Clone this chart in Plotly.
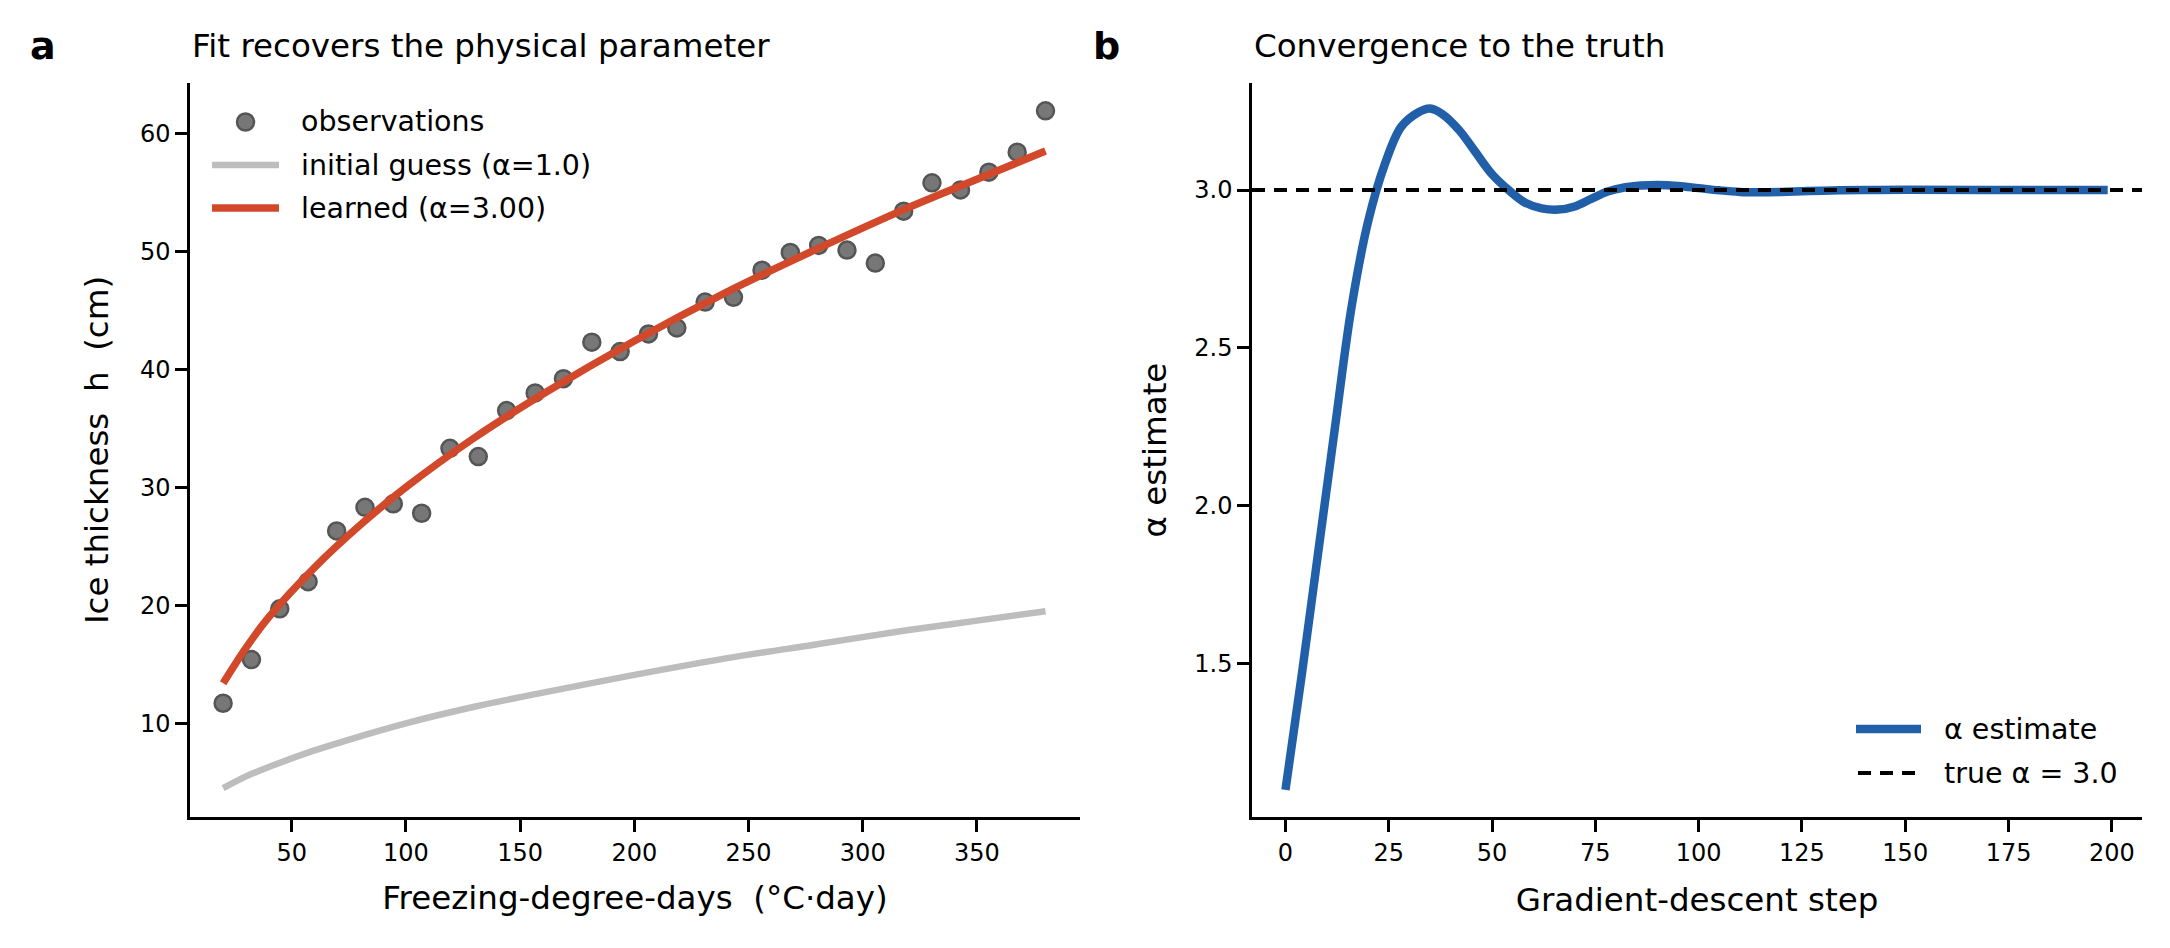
import plotly.graph_objects as go

W, H = 2170, 948
FONT = "DejaVu Sans"

# ---------------- data: panel a ----------------
fdd_obs = [20.0, 32.4, 44.8, 57.2, 69.7, 82.1, 94.5, 106.9, 119.3, 131.7,
           144.1, 156.6, 169.0, 181.4, 193.8, 206.2, 218.6, 231.0, 243.4, 255.9,
           268.3, 280.7, 293.1, 305.5, 317.9, 330.3, 342.8, 355.2, 367.6, 380.0]
h_obs = [11.7, 15.4, 19.7, 22.0, 26.3, 28.3, 28.6, 27.8, 33.3, 32.6,
         36.5, 38.0, 39.2, 42.3, 41.5, 43.0, 43.5, 45.7, 46.1, 48.4,
         49.9, 50.5, 50.1, 49.0, 53.4, 55.8, 55.2, 56.7, 58.4, 61.9]

fdd_curve = [20, 30, 40, 60, 80, 100, 130, 160, 200, 240, 280, 320, 350, 380]
h_initial = [4.5, 5.5, 6.3, 7.7, 8.9, 10.0, 11.4, 12.6, 14.1, 15.5, 16.7, 17.9, 18.7, 19.5]
h_learned = [13.4, 16.4, 19.0, 23.2, 26.8, 30.0, 34.2, 37.9, 42.4, 46.5, 50.2, 53.7, 56.1, 58.5]

# ---------------- data: panel b ----------------
steps = [0, 4, 8, 12, 16, 20, 24, 28, 32, 35, 38, 42, 46, 50, 54, 58, 62, 66, 70,
         74, 78, 82, 86, 90, 95, 100, 105, 110, 115, 120, 130, 140, 150, 170, 199]
alpha_est = [1.10, 1.47, 1.86, 2.25, 2.63, 2.90, 3.08, 3.20, 3.245, 3.258, 3.24, 3.19,
             3.12, 3.05, 3.00, 2.96, 2.942, 2.938, 2.948, 2.972, 2.995, 3.008, 3.014,
             3.016, 3.013, 3.006, 2.999, 2.994, 2.993, 2.994, 2.998, 3.0, 3.001, 3.0, 3.0]
alpha_true = 3.0

# ---------------- ticks / ranges ----------------
xticks_a = [50, 100, 150, 200, 250, 300, 350]
yticks_a = [10, 20, 30, 40, 50, 60]
xticks_b = [0, 25, 50, 75, 100, 125, 150, 175, 200]
yticks_b = [1.5, 2.0, 2.5, 3.0]
xrange_a = [5.5, 395.1]
yrange_a = [2.06, 64.26]
xrange_b = [-8.1, 207.3]
yrange_b = [1.014, 3.339]

# ---------------- styles ----------------
C_OBS, C_OBS_EDGE = "#777777", "#555555"
C_INIT, C_LEARN, C_EST = "#bdbdbd", "#d1492a", "#2160a8"
W_INIT, W_LEARN, W_EST, W_TRUE = 6.5, 7.5, 8.5, 4
DASH = "13px,9px"

# ---------------- layout geometry (pixels) ----------------
AX_A = (190, 1080)
AX_B = (1252, 2142)
TOP, BOT = 83, 817


def px(x):
    return x / W


def py(y):
    return 1 - y / H


fig = go.Figure()

fig.add_trace(go.Scatter(
    x=fdd_curve, y=h_initial, mode="lines", name="initial guess (α=1.0)",
    line=dict(color=C_INIT, width=W_INIT, shape="spline"),
    xaxis="x", yaxis="y", showlegend=False))
fig.add_trace(go.Scatter(
    x=fdd_obs, y=h_obs, mode="markers", name="observations",
    marker=dict(size=17, color=C_OBS, line=dict(color=C_OBS_EDGE, width=2.5)),
    xaxis="x", yaxis="y", showlegend=False))
fig.add_trace(go.Scatter(
    x=fdd_curve, y=h_learned, mode="lines", name="learned (α=3.00)",
    line=dict(color=C_LEARN, width=W_LEARN, shape="spline"),
    xaxis="x", yaxis="y", showlegend=False))

fig.add_trace(go.Scatter(
    x=steps, y=alpha_est, mode="lines", name="α estimate",
    line=dict(color=C_EST, width=W_EST, shape="spline"),
    xaxis="x2", yaxis="y2", showlegend=False))
fig.add_trace(go.Scatter(
    x=xrange_b, y=[alpha_true, alpha_true], mode="lines", name="true α = 3.0",
    line=dict(color="black", width=W_TRUE, dash=DASH),
    xaxis="x2", yaxis="y2", showlegend=False))

axis_common = dict(
    showline=True, linecolor="black", linewidth=2.5, mirror=False,
    showgrid=False, zeroline=False, ticks="outside", ticklen=12,
    tickwidth=2.5, tickcolor="black",
    tickfont=dict(family=FONT, size=24, color="black"),
    title_font=dict(family=FONT, size=32.5, color="black"),
)

fig.update_layout(
    width=W, height=H,
    margin=dict(l=0, r=0, t=0, b=0),
    paper_bgcolor="white", plot_bgcolor="white",
    font=dict(family=FONT, color="black"),
    showlegend=False,
    xaxis=dict(domain=[px(AX_A[0]), px(AX_A[1])], range=xrange_a, tickvals=xticks_a,
               anchor="y", title=dict(text="Freezing-degree-days\u00a0\u00a0(°C·day)", standoff=21),
               **axis_common),
    yaxis=dict(domain=[py(BOT), py(TOP)], range=yrange_a, tickvals=yticks_a,
               anchor="x", title=dict(text="Ice thickness\u00a0\u00a0h\u00a0\u00a0(cm)", standoff=22),
               **axis_common),
    xaxis2=dict(domain=[px(AX_B[0]), px(AX_B[1])], range=xrange_b, tickvals=xticks_b,
                anchor="y2", title=dict(text="Gradient-descent step", standoff=23),
                **axis_common),
    yaxis2=dict(domain=[py(BOT), py(TOP)], range=yrange_b, tickvals=yticks_b,
                tickformat=".1f", anchor="x2",
                title=dict(text="α estimate", standoff=18),
                **axis_common),
)

LEG_FONT = dict(family=FONT, size=28.5, color="black")

annotations = [
    dict(text="Fit recovers the physical parameter", x=px(190), y=py(46),
         xanchor="left", yanchor="middle", font=dict(family=FONT, size=32.5, color="black")),
    dict(text="Convergence to the truth", x=px(1252), y=py(46),
         xanchor="left", yanchor="middle", font=dict(family=FONT, size=32.5, color="black")),
    dict(text="<b>a</b>", x=px(43), y=py(46), xanchor="center", yanchor="middle",
         font=dict(family=FONT, size=38, color="black")),
    dict(text="<b>b</b>", x=px(1106), y=py(46), xanchor="center", yanchor="middle",
         font=dict(family=FONT, size=38, color="black")),
]

# legend entries (panel a: top-left, panel b: bottom-right)
legend_a = [("observations", 122), ("initial guess (α=1.0)", 165), ("learned (α=3.00)", 208)]
legend_b = [("α estimate", 729), ("true α = 3.0", 773)]
for label, yy in legend_a:
    annotations.append(dict(text=label, x=px(299), y=py(yy), xanchor="left",
                            yanchor="middle", font=LEG_FONT))
for label, yy in legend_b:
    annotations.append(dict(text=label, x=px(1942), y=py(yy), xanchor="left",
                            yanchor="middle", font=LEG_FONT))
for a in annotations:
    a.update(xref="paper", yref="paper", showarrow=False)

shapes = [
    # observations marker sample
    dict(type="circle", xref="paper", yref="paper", xsizemode="pixel", ysizemode="pixel",
         xanchor=px(245.5), yanchor=py(legend_a[0][1]), x0=-8.5, x1=8.5, y0=-8.5, y1=8.5,
         fillcolor=C_OBS, line=dict(color=C_OBS_EDGE, width=2.5)),
    dict(type="line", xref="paper", yref="paper", x0=px(212), x1=px(279),
         y0=py(legend_a[1][1]), y1=py(legend_a[1][1]), line=dict(color=C_INIT, width=W_INIT)),
    dict(type="line", xref="paper", yref="paper", x0=px(212), x1=px(279),
         y0=py(legend_a[2][1]), y1=py(legend_a[2][1]), line=dict(color=C_LEARN, width=W_LEARN)),
    dict(type="line", xref="paper", yref="paper", x0=px(1856), x1=px(1921),
         y0=py(legend_b[0][1]), y1=py(legend_b[0][1]), line=dict(color=C_EST, width=W_EST)),
    dict(type="line", xref="paper", yref="paper", x0=px(1858), x1=px(1921),
         y0=py(legend_b[1][1]), y1=py(legend_b[1][1]),
         line=dict(color="black", width=W_TRUE, dash=DASH)),
]

fig.update_layout(annotations=annotations, shapes=shapes)

fig.write_html("out.html")
